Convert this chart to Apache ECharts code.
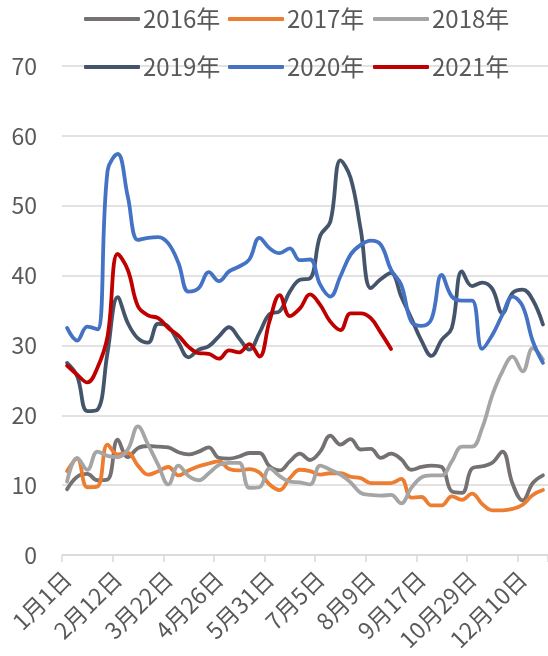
<!DOCTYPE html>
<html>
<head>
<meta charset="utf-8">
<script src="https://cdn.jsdelivr.net/npm/echarts@6/dist/echarts.min.js"></script>
<style>
html,body{margin:0;padding:0;background:#fff;}
#chart{width:548px;height:656px;}
</style>
</head>
<body>
<div id="chart"></div>
<script>
const categories = ['1月1日','1月8日','1月15日','1月22日','1月29日','2月12日','2月19日','2月26日','3月5日','3月12日',
  '3月22日','3月29日','4月5日','4月12日','4月19日','4月26日','5月3日','5月10日','5月17日','5月24日',
  '5月31日','6月7日','6月14日','6月21日','6月28日','7月5日','7月12日','7月19日','7月26日','8月2日',
  '8月9日','8月16日','8月23日','8月30日','9月10日','9月17日','9月24日','9月30日','10月15日','10月22日',
  '10月29日','11月5日','11月12日','11月19日','12月3日','12月10日','12月17日','12月24日'];

const s2016 = [9.4,11.2,11.6,10.7,10.8,16.5,14.0,15.3,15.6,15.5,15.4,14.7,14.4,14.8,15.4,13.9,13.8,14.1,14.6,14.6,
  12.7,12.1,13.4,14.5,13.6,14.8,17.1,15.8,16.6,15.1,15.2,13.9,14.5,13.7,12.2,12.6,12.8,12.6,9.1,8.9,
  12.4,12.7,13.2,14.8,10.2,7.8,10.3,11.4];
const s2017 = [12.0,13.8,9.7,9.8,15.8,14.4,14.6,12.8,11.5,12.0,12.6,11.4,12.1,12.7,13.1,13.4,12.3,12.1,12.3,11.8,
  10.1,9.3,11.0,12.2,12.0,11.5,11.7,11.7,11.2,11.0,10.3,10.3,10.3,10.9,8.2,8.3,7.1,7.1,8.4,7.9,
  8.8,7.3,6.4,6.4,6.6,7.2,8.6,9.3];
const s2018 = [10.5,13.9,12.2,14.8,14.2,14.0,15.1,18.4,15.8,12.9,10.1,12.8,11.3,10.7,11.7,12.9,13.2,13.2,9.6,9.7,
  12.4,11.3,10.5,10.4,10.1,12.8,12.2,11.5,10.4,8.9,8.6,8.5,8.6,7.4,9.6,11.1,11.4,11.4,13.4,15.5,
  15.5,18.2,22.9,26.3,28.4,26.3,29.6,28.0];
const s2019 = [27.5,25.6,20.6,20.8,29.0,36.9,33.2,31.0,30.4,33.1,32.7,30.4,28.3,29.4,29.9,31.3,32.6,31.0,29.4,31.8,
  34.5,34.9,37.7,39.4,39.6,45.7,47.7,56.5,54.0,46.6,38.2,39.5,40.4,37.0,33.9,30.7,28.5,30.8,32.5,40.6,
  38.5,39.0,38.1,34.6,37.5,38.0,36.5,33.0];
const s2020 = [32.5,30.7,32.7,32.3,55.0,57.4,51.3,45.1,45.4,45.5,44.6,41.8,37.7,38.2,40.5,39.2,40.6,41.3,42.3,45.4,
  43.9,43.2,43.9,42.2,42.3,38.7,37.0,39.9,43.0,44.4,45.0,44.4,40.8,38.7,33.4,32.8,33.8,40.1,37.0,36.4,
  36.4,29.5,31.5,34.4,37.0,35.6,30.6,27.5];
const s2021 = [27.1,25.8,24.7,26.8,31.3,43.1,40.8,35.6,34.3,33.9,32.5,31.4,29.8,28.9,28.8,28.1,29.3,29.0,30.2,28.4,
  33.5,37.2,34.2,35.3,37.3,35.8,33.4,32.2,34.6,34.6,33.9,31.8,29.5];

const yTicks = {min: 0, max: 70, interval: 10};

const FONT = '"Noto Sans CJK SC", "Microsoft YaHei", sans-serif';
const TXT = '#595959';

const seriesDefs = [
  {name: '2016年', data: s2016, color: '#767171'},
  {name: '2017年', data: s2017, color: '#ED7D31'},
  {name: '2018年', data: s2018, color: '#A5A5A5'},
  {name: '2019年', data: s2019, color: '#44546A'},
  {name: '2020年', data: s2020, color: '#4472C4'},
  {name: '2021年', data: s2021, color: '#C00000'}
];

const legendLefts = [84, 228, 373, 84, 228, 373];
const legendTops = [7, 7, 7, 55, 55, 55];

const legends = seriesDefs.map((d, i) => ({
  left: legendLefts[i], top: legendTops[i], padding: 0,
  itemWidth: 56, itemHeight: 4, itemGap: 0, icon: 'roundRect',
  data: [d.name],
  textStyle: {fontSize: 24, color: TXT, fontFamily: FONT, padding: [0, 0, 0, -2]}
}));

const chart = echarts.init(document.getElementById('chart'), null, {renderer: 'canvas'});
chart.setOption({
  animation: false,
  backgroundColor: '#ffffff',
  textStyle: {fontFamily: FONT},
  legend: legends,
  grid: {left: 62, top: 66, width: 487, height: 489, containLabel: false},
  xAxis: {
    type: 'category',
    data: categories,
    boundaryGap: true,
    axisLine: {show: true, lineStyle: {color: '#D9D9D9', width: 1.5}},
    axisTick: {show: true, interval: 4, length: 7, lineStyle: {color: '#D9D9D9', width: 1.5}},
    axisLabel: {interval: 4, rotate: 45, margin: 20, fontSize: 23, color: TXT, fontFamily: FONT},
    splitLine: {show: false}
  },
  yAxis: {
    type: 'value',
    min: yTicks.min, max: yTicks.max, interval: yTicks.interval,
    axisLine: {show: false},
    axisTick: {show: false},
    axisLabel: {margin: 25, fontSize: 23, color: TXT, fontFamily: FONT},
    splitLine: {show: true, lineStyle: {color: '#D9D9D9', width: 1.5}}
  },
  series: seriesDefs.map(d => ({
    name: d.name,
    type: 'line',
    data: d.data,
    smooth: 0.4,
    showSymbol: false,
    symbol: 'none',
    color: d.color,
    lineStyle: {width: 3.8, color: d.color, cap: 'round', join: 'round'},
    emphasis: {disabled: true}
  }))
});
</script>
</body>
</html>
